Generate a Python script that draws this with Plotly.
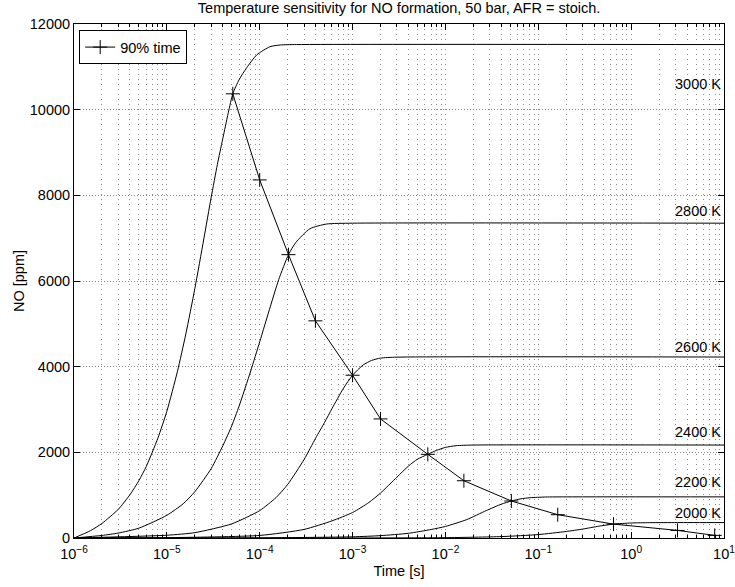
import plotly.graph_objects as go

# NO concentration histories at 50 bar, stoichiometric, per temperature
temps = ["3000 K", "2800 K", "2600 K", "2400 K", "2200 K", "2000 K"]

t_3000 = [1.0e-6, 1.5e-6, 2.0e-6, 3.0e-6, 4.0e-6, 5.0e-6, 6.0e-6, 8.0e-6, 1.0e-5, 1.3e-5,
          1.6e-5, 2.0e-5, 2.5e-5, 3.0e-5, 3.5e-5, 4.0e-5, 5.13e-5, 6.0e-5, 7.24e-5, 9.3e-5,
          1.29e-4, 1.66e-4, 2.5e-4, 10.0]
no_3000 = [0, 170, 340, 670, 1010, 1340, 1670, 2330, 2960, 3890,
           4760, 5820, 6980, 7950, 8720, 9320, 10370, 10700, 10980, 11280,
           11470, 11510, 11520, 11520]

t_2800 = [1.0e-6, 2.0e-6, 3.0e-6, 5.0e-6, 1.0e-5, 1.5e-5, 2.0e-5, 3.0e-5, 4.0e-5, 5.0e-5,
          6.0e-5, 8.0e-5, 1.0e-4, 1.3e-4, 1.6e-4, 2.04e-4, 2.45e-4, 3.47e-4, 5.25e-4,
          1.0e-3, 10.0]
no_2800 = [0, 60, 115, 230, 530, 800, 1080, 1620, 2150, 2620,
           3080, 3900, 4580, 5400, 6030, 6615, 6900, 7220, 7330,
           7350, 7350]

t_2600 = [1.0e-6, 1.0e-5, 2.0e-5, 5.0e-5, 1.0e-4, 1.5e-4, 2.0e-4, 3.0e-4, 4.0e-4, 5.0e-4,
          6.0e-4, 8.0e-4, 1.0e-3, 1.3e-3, 1.6e-3, 2.0e-3, 3.0e-3, 10.0]
no_2600 = [0, 65, 125, 330, 640, 945, 1250, 1830, 2330, 2700,
           3020, 3500, 3800, 4040, 4145, 4200, 4222, 4225]

t_2400 = [1.0e-6, 1.0e-5, 1.0e-4, 3.0e-4, 6.0e-4, 1.0e-3, 1.5e-3, 2.0e-3, 3.0e-3, 4.0e-3,
          5.0e-3, 6.46e-3, 8.0e-3, 1.0e-2, 1.3e-2, 2.0e-2, 10.0]
no_2400 = [0, 8, 60, 200, 400, 595, 830, 1050, 1420, 1680,
           1840, 1953, 2045, 2115, 2155, 2170, 2170]

t_2200 = [1.0e-6, 1.0e-4, 1.0e-3, 2.0e-3, 4.0e-3, 7.08e-3, 1.0e-2, 1.7e-2, 2.75e-2, 4.0e-2,
          5.13e-2, 6.5e-2, 8.13e-2, 0.12, 0.2, 10.0]
no_2200 = [0, 3, 28, 55, 110, 200, 270, 430, 640, 790,
           864, 915, 940, 957, 960, 960]

t_2000 = [1.0e-6, 1.0e-3, 1.0e-2, 4.0e-2, 0.1, 0.2, 0.3, 0.447, 0.646, 1.0, 1.58, 3.16, 10.0]
no_2000 = [0, 1, 8, 33, 80, 152, 208, 275, 324, 350, 358, 360, 360]

# time to reach 90 % of equilibrium NO, one point per temperature step
t90 = [5.13e-5, 1.0e-4, 2.04e-4, 3.98e-4, 1.0e-3, 2.0e-3, 6.46e-3, 1.58e-2,
       5.13e-2, 0.162, 0.646, 3.16, 7.94]
no90 = [10370, 8360, 6615, 5070, 3800, 2780, 1953, 1337, 864, 544, 324, 177, 61]

# temperature label heights (ppm) next to the equilibrium plateaus
label_y = [10600, 7640, 4470, 2485, 1310, 595]

x_ticks = [1e-6, 1e-5, 1e-4, 1e-3, 1e-2, 1e-1, 1e0, 1e1]
x_ticktext = ["10<sup>−6</sup>", "10<sup>−5</sup>", "10<sup>−4</sup>", "10<sup>−3</sup>",
              "10<sup>−2</sup>", "10<sup>−1</sup>", "10<sup>0</sup>", "10<sup>1</sup>"]
y_ticks = [0, 2000, 4000, 6000, 8000, 10000, 12000]
y_ticktext = [str(v) for v in y_ticks]

FONT = "Liberation Sans, Arial, sans-serif"
FS = 14.5
GRID = "#8a8a8a"

fig = go.Figure()

curves = [(t_3000, no_3000), (t_2800, no_2800), (t_2600, no_2600),
          (t_2400, no_2400), (t_2200, no_2200), (t_2000, no_2000)]
for name, (tt, nn) in zip(temps, curves):
    fig.add_trace(go.Scatter(
        x=tt, y=nn, mode="lines", name=name, showlegend=False,
        line=dict(color="black", width=1, shape="spline", smoothing=0.6),
    ))

fig.add_trace(go.Scatter(
    x=t90, y=no90, mode="lines+markers", name="90% time",
    line=dict(color="black", width=1),
    marker=dict(symbol="cross-thin", size=10, color="black",
                line=dict(color="black", width=1)),
))

for name, ly in zip(temps, label_y):
    fig.add_annotation(x=1, xref="x", y=ly, yref="y", text=name, showarrow=False,
                       xanchor="right", yanchor="middle", xshift=-1,
                       font=dict(family=FONT, size=FS, color="black"))

minor_x = [m * 10.0 ** e for e in range(-6, 1) for m in range(2, 10)]

fig.update_xaxes(
    type="log", range=[-6, 1], tickvals=x_ticks, ticktext=x_ticktext,
    ticks="inside", ticklen=6, tickcolor="black", mirror="allticks",
    showline=True, linecolor="black", linewidth=1,
    showgrid=True, gridcolor=GRID, griddash="1px,4px", gridwidth=1,
    minor=dict(tickvals=minor_x, ticks="inside", ticklen=3, tickcolor="black",
               showgrid=True, gridcolor=GRID, griddash="1px,4px", gridwidth=1),
    tickfont=dict(family=FONT, size=FS, color="black"),
    ticklabelstandoff=3, ticklabeloverflow="allow",
    title=dict(text="Time [s]", font=dict(family=FONT, size=FS, color="black"), standoff=4),
    zeroline=False, automargin=False,
)
fig.update_yaxes(
    range=[0, 12000], tickvals=y_ticks, ticktext=y_ticktext,
    ticks="inside", ticklen=6, tickcolor="black",
    mirror="allticks", showline=True, linecolor="black", linewidth=1,
    showgrid=True, gridcolor=GRID, griddash="1px,2px", gridwidth=1,
    tickfont=dict(family=FONT, size=FS, color="black"),
    title=dict(text="NO [ppm]", font=dict(family=FONT, size=FS, color="black"), standoff=1),
    zeroline=False,
)

fig.update_layout(
    width=735, height=587,
    margin=dict(l=74, r=11, t=24, b=49),
    paper_bgcolor="white", plot_bgcolor="white",
    title=dict(text="Temperature sensitivity for NO formation, 50 bar, AFR = stoich.",
               x=0.543, xanchor="center", y=0.995, yanchor="top",
               font=dict(family=FONT, size=FS, color="black")),
    legend=dict(x=0.008, y=0.988, xanchor="left", yanchor="top",
                bgcolor="white", bordercolor="black", borderwidth=1,
                font=dict(family=FONT, size=FS, color="black"),
                itemwidth=30, tracegroupgap=0),
    showlegend=True,
)

fig.write_html("out.html")
